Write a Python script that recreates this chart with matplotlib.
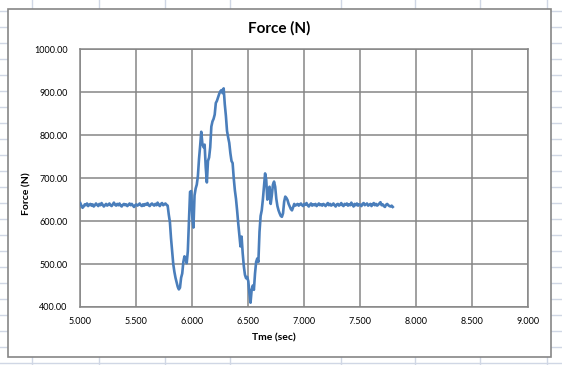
import numpy as np
import matplotlib
matplotlib.use("Agg")
import matplotlib.pyplot as plt
from matplotlib.patches import Rectangle

# force readings (N), sampled every 0.01 s starting at 5.00 s
force_before = [
    642, 636, 631, 634, 639, 637, 641, 635, 638, 640,
    636, 639, 634, 637, 641, 638, 635, 640, 637, 642,
    638, 634, 637, 640, 636, 638, 641, 637, 635, 639,
    643, 638, 636, 640, 637, 641, 636, 634, 638, 640,
    637, 639, 635, 638, 641, 637, 640, 636, 633, 637,
    639, 636, 638, 641, 637, 635, 639, 636, 640, 638,
    642, 637, 635, 639, 641, 638, 636, 640, 637, 643,
    638, 635, 640, 642, 637, 639, 641,
]
force_event = [
    638, 636, 615, 598, 560, 530, 500, 482, 468, 458,
    447, 441, 445, 468, 478, 505, 518, 513, 502, 530,
    600, 668, 670, 610, 585, 660, 676, 685, 705, 745,
    775, 808, 780, 772, 778, 725, 690, 740, 748, 772,
    820, 832, 838, 848, 875, 880, 888, 896, 902, 905,
    898, 909, 872, 845, 810, 795, 782, 758, 740, 735,
    700, 672, 652, 625, 595, 568, 541, 564, 525, 495,
    475, 467, 470, 460, 432, 410, 440, 450, 440, 478,
    505, 513, 505, 575, 612, 625, 650, 680, 711, 696,
    650, 673, 680, 640, 660, 685, 692, 680, 652, 635,
    625, 618, 612, 610, 618, 645, 657, 654, 649, 640,
    634, 628, 625, 632, 640, 636, 638,
]
force_after = [
    640, 636, 639, 641, 637, 635, 640, 638, 642, 637,
    634, 638, 641, 636, 639, 637, 640, 635, 638, 641,
    637, 639, 636, 640, 638, 635, 639, 642, 637, 640,
    636, 638, 641, 637, 634, 639, 640, 636, 638, 642,
    637, 635, 640, 638, 641, 636, 639, 637, 643, 638,
    634, 640, 637, 641, 636, 639, 638, 635, 640, 642,
    637, 639, 641, 636, 638, 640, 635, 639, 642, 637,
    640, 636, 638, 641, 644, 637, 639, 635, 633, 638,
    640, 637, 635, 634, 636, 633,
]
force = np.array(force_before + force_event + force_after, dtype=float)
t_start = 5.0
dt = 0.01
time = t_start + dt * np.arange(len(force))

x_ticks = [5.0, 5.5, 6.0, 6.5, 7.0, 7.5, 8.0, 8.5, 9.0]
y_ticks = [400, 500, 600, 700, 800, 900, 1000]

W, H = 562, 365
fig = plt.figure(figsize=(W / 100, H / 100), dpi=100)
font = "Lato"

# spreadsheet cells behind the chart
bg = fig.add_axes([0, 0, 1, 1])
bg.set_xlim(0, W)
bg.set_ylim(H, 0)
bg.axis("off")
for y in range(11, H, 16):
    bg.axhline(y, color="#d0d7e5", lw=1)
for x in [32, 99, 165, 230, 341, 415, 480, 547]:
    bg.axvline(x, color="#d0d7e5", lw=1)
bg.add_patch(Rectangle((8, 9), 543, 348, facecolor="white",
                       edgecolor="#868686", lw=1.2, zorder=3))

# main plot area
ax = fig.add_axes([80.3 / W, 1 - 307 / H, 448 / W, (307 - 49.3) / H])
ax.plot(time, force, color="#4a7ebb", lw=1.9, zorder=3)
ax.set_xlim(5, 9)
ax.set_ylim(400, 1000)
ax.set_xticks(x_ticks)
ax.set_yticks(y_ticks)
ax.set_xticklabels([f"{v:.3f}" for v in x_ticks], fontsize=6.5, family=font)
ax.set_yticklabels([f"{v:.2f}" for v in y_ticks], fontsize=6.5, family=font)
ax.tick_params(length=0, pad=7)
ax.tick_params(axis="y", pad=9)
ax.grid(True, color="#868686", lw=1.1)
for s in ax.spines.values():
    s.set_color("#868686")
    s.set_linewidth(1.1)

fig.text(279.5 / W, 1 - 28 / H, "Force (N)", ha="center", va="center",
         fontsize=11, fontweight="bold", family=font)
fig.text(274 / W, 1 - 338 / H, "Tme (sec)", ha="center", va="center",
         fontsize=7.5, fontweight="bold", family=font)
fig.text(27 / W, 1 - 194 / H, "Force (N)", ha="center", va="center",
         rotation=90, fontsize=7.5, fontweight="bold", family=font)

fig.savefig("out.png", dpi=100)
